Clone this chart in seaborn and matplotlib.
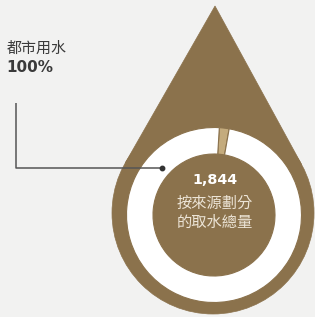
import numpy as np
import matplotlib
matplotlib.use('Agg')
import matplotlib.pyplot as plt
from matplotlib.patches import Circle, Polygon
import seaborn as sns

# data
ring_labels = ['其他', '都市用水']
ring_values = [1.8, 98.2]
source_label = '都市用水'
source_share = '100%'
total_value = '1,844'
center_lines = ['按來源劃分', '的取水總量']

brown = '#8b724c'
tan = '#c4ab7d'
bg = '#f2f2f1'

sns.set_theme(style='white')
plt.rcParams['font.family'] = ['Noto Sans CJK TC', 'DejaVu Sans']

fig = plt.figure(figsize=(3.15, 3.17), dpi=100, facecolor=bg)
ax = fig.add_axes([0, 0, 1, 1])
ax.set_facecolor(bg)

# drop shape: circle + triangle up to the tip
cx, cy, r = 213, 104, 101
tip = np.array([215, 311])
phi = np.arctan2(tip[1] - cy, tip[0] - cx)
d = np.hypot(tip[0] - cx, tip[1] - cy)
beta = np.arccos(r / d)
p1 = (cx + r * np.cos(phi + beta), cy + r * np.sin(phi + beta))
p2 = (cx + r * np.cos(phi - beta), cy + r * np.sin(phi - beta))
ax.add_patch(Circle((cx, cy), r, facecolor=brown, edgecolor=brown, lw=0.5, zorder=1))
ax.add_patch(Polygon([tuple(tip), p1, p2], closed=True, facecolor=brown,
                     edgecolor=brown, lw=0.5, zorder=1))

# donut ring
ax.pie(ring_values, colors=[tan, 'white'], startangle=86.5, counterclock=False,
       center=(214, 102), radius=87.5,
       wedgeprops=dict(width=26.5, edgecolor=brown, linewidth=0.8),
       normalize=True)

# leader line
ax.plot([16, 16, 162], [214, 149, 149], color='#555555', lw=1.1, zorder=3,
        solid_capstyle='butt')
ax.plot([162], [149], 'o', color='#333333', ms=3.2, zorder=4)

# labels
ax.text(7, 268.5, source_label, fontsize=10.8, color='#3a3a3a', va='center', ha='left')
ax.text(6, 250, source_share, fontsize=11, color='#3a3a3a', va='center', ha='left',
        fontweight='bold', family='DejaVu Sans')

ax.text(214.5, 137, total_value, fontsize=10.3, color='white', va='center', ha='center',
        fontweight='bold', family='DejaVu Sans')
ax.text(214.5, 114, center_lines[0], fontsize=11, color='#ece4d6', va='center', ha='center')
ax.text(214.5, 95, center_lines[1], fontsize=11, color='#ece4d6', va='center', ha='center')

ax.set_xlim(0, 315)
ax.set_ylim(0, 317)
ax.set_aspect('auto')
ax.axis('off')

fig.savefig('out.png', dpi=100, facecolor=bg)
